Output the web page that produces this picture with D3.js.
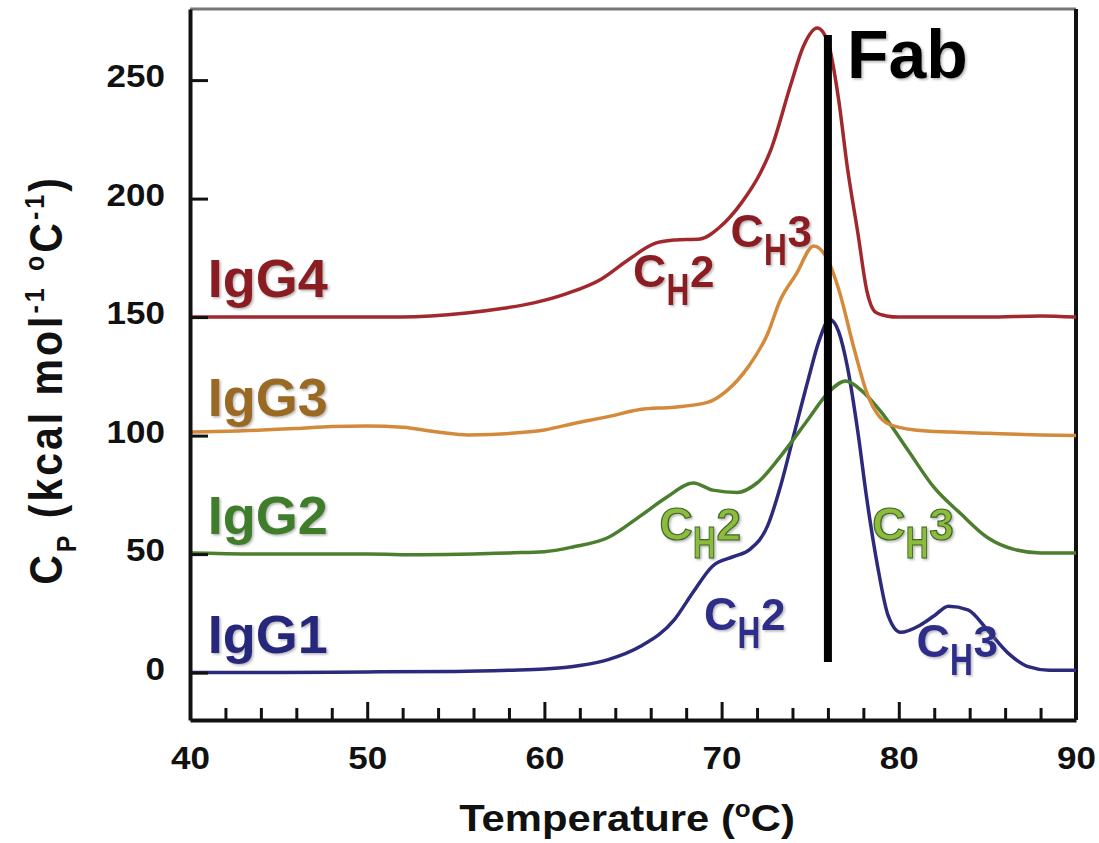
<!DOCTYPE html>
<html>
<head>
<meta charset="utf-8">
<script src="https://cdn.jsdelivr.net/npm/d3@7"></script>
<style>
body { margin: 0; background: #fff; }
text { font-family: "Liberation Sans", Arial, Helvetica, sans-serif; font-weight: bold; }
</style>
</head>
<body>
<svg id="chart" width="1099" height="843"></svg>
<script>

// tick values
var tempTicks = [40, 50, 60, 70, 80, 90],
    cpTicks = [0, 50, 100, 150, 200, 250];

// DSC traces (temperature in C, Cp in kcal/mol/C, offset as plotted)
var igg1T  = [40, 45, 50, 55, 58, 60, 62, 63.6, 65.4, 67.3, 68.4, 69.5, 70.7, 71.6, 72.6, 73.3, 74.1, 74.9, 75.5, 76.1, 76.6, 77.1, 77.7, 78.2, 78.8, 79.4, 80.1, 81.2, 82.0, 82.8, 83.9, 85.0, 86.2, 87.3, 88.5, 90],
    igg1Cp = [0, 0, 0.3, 0.5, 1, 1.5, 3, 5.5, 11, 22, 34, 45, 49, 52, 62, 78, 101, 124, 140, 149, 144, 129, 101, 73, 45, 24, 17, 20, 24, 28, 26.5, 18, 8, 2.5, 1, 1];

var igg2T  = [40, 45, 50, 53, 56, 58, 60, 61.6, 63.6, 65.4, 66.9, 68.4, 69.5, 70.9, 72.0, 73.3, 74.9, 76.0, 77.0, 77.9, 79.0, 80.5, 82.0, 83.5, 85.0, 86.5, 88, 90],
    igg2Cp = [50.5, 50, 50, 49.7, 50, 50.5, 51, 53, 57, 66, 74, 80, 77, 76, 80, 91, 107, 118, 123, 119, 110, 94, 78, 67, 57, 52, 50.5, 50.5];

var igg3T  = [40, 43, 46, 48, 50, 52, 54, 55.7, 57, 59, 60, 61.6, 63.6, 65.4, 67.3, 69.2, 70.3, 71.5, 72.6, 73.3, 74.2, 75.2, 76.0, 76.6, 77.5, 78.2, 79.4, 80.9, 83, 85, 88, 90],
    igg3Cp = [101.5, 102, 103, 103.8, 104, 103.5, 101.5, 100.3, 100.5, 101.5, 102.4, 105, 108, 111, 112, 114, 119, 129, 143, 157, 168, 180, 174, 162, 136, 118, 105, 102.4, 101.5, 101, 100.3, 100];

var igg4T  = [40, 45, 50, 51.9, 55.6, 57.5, 59.4, 61.3, 63.2, 64.7, 66.2, 67.3, 68.8, 69.9, 71.1, 72.2, 72.8, 73.9, 74.6, 75.4, 76.0, 76.6, 77.1, 77.7, 78.2, 78.7, 79.3, 80, 82, 85, 88, 90],
    igg4Cp = [150, 150, 150, 150, 151.7, 153.5, 156, 160, 166, 174, 181, 182.5, 183, 188, 198, 211, 221, 248, 264, 272, 266, 242, 213, 185, 161, 152, 150.5, 150, 150, 150, 150.5, 150];

var seriesNames = ["IgG1", "IgG2", "IgG3", "IgG4"],
    seriesBase = [0, 50, 100, 150];

// Fab transition marker
var fabT = 76, fabCp = [4.5, 269];

var lineColours = ["#2b2a7c", "#4b7e2e", "#d48a3b", "#a1292d"],
    textColours = ["#27277c", "#3f7d2a", "#9b6a24", "#8b1c22"],
    chColours   = ["#2e2e8a", "#8dbb3c", "#9b6a24", "#8b1c22"],
    chStrokes   = ["none", "#3f6a22", "none", "none"];

var svg = d3.select("#chart");

var x = d3.scaleLinear().domain([40, 90]).range([190, 1076]),
    y = d3.scaleLinear().domain([-20, 280]).range([720, 9]);

var defs = svg.append("defs");
defs.append("filter").attr("id", "shadow")
    .attr("x", "-10%").attr("y", "-10%").attr("width", "130%").attr("height", "130%")
  .append("feDropShadow")
    .attr("dx", 1.5).attr("dy", 1.5).attr("stdDeviation", 1)
    .attr("flood-color", "#777").attr("flood-opacity", 0.55);

var series = [
  {name: seriesNames[0], t: igg1T, cp: igg1Cp},
  {name: seriesNames[1], t: igg2T, cp: igg2Cp},
  {name: seriesNames[2], t: igg3T, cp: igg3Cp},
  {name: seriesNames[3], t: igg4T, cp: igg4Cp}
];

var line = d3.line()
    .x(function(d) { return x(d[0]); })
    .y(function(d) { return y(d[1]); })
    .curve(d3.curveMonotoneX);

// box: top border grey, right border black
svg.append("line")
    .attr("x1", x(40)).attr("x2", x(90)).attr("y1", y(280)).attr("y2", y(280))
    .attr("stroke", "#777").attr("stroke-width", 3);
svg.append("line")
    .attr("x1", x(90)).attr("x2", x(90)).attr("y1", y(280)).attr("y2", y(-20))
    .attr("stroke", "#111").attr("stroke-width", 4);

// traces
svg.append("g").selectAll("path")
    .data(series)
  .enter().append("path")
    .attr("d", function(d) { return line(d.t.map(function(t, i) { return [t, d.cp[i]]; })); })
    .attr("fill", "none")
    .attr("stroke", function(d, i) { return lineColours[i]; })
    .attr("stroke-width", 3.5)
    .attr("stroke-linejoin", "round");

// Fab line
svg.append("line")
    .attr("x1", x(fabT)).attr("x2", x(fabT))
    .attr("y1", y(fabCp[0])).attr("y2", y(fabCp[1]))
    .attr("stroke", "#000").attr("stroke-width", 8);

svg.append("text")
    .attr("x", x(fabT) + 19).attr("y", 78)
    .style("font-size", "68px")
    .attr("fill", "#000")
    .attr("filter", "url(#shadow)")
    .text("Fab");

// axes
var yAxis = d3.axisLeft(y).tickValues(cpTicks).tickSize(-18).tickSizeOuter(0).tickPadding(25);
var xAxis = d3.axisBottom(x).tickValues(tempTicks).tickSize(-18).tickSizeOuter(0).tickPadding(27);
var xMinor = d3.axisBottom(x)
    .tickValues(d3.range(42, 90, 2).filter(function(v) { return v % 10 != 0; }))
    .tickSize(-12).tickSizeOuter(0).tickFormat("");

svg.append("g").attr("transform", "translate(0," + y(-20) + ")").call(xMinor)
    .call(function(g) { g.select(".domain").remove(); })
    .selectAll("line").attr("stroke", "#111").attr("stroke-width", 3);

var gx = svg.append("g").attr("transform", "translate(0," + y(-20) + ")").call(xAxis);
var gy = svg.append("g").attr("transform", "translate(" + x(40) + ",0)").call(yAxis);

[gx, gy].forEach(function(g) {
  g.attr("font-family", null).attr("font-size", null);
  g.select(".domain").attr("stroke", "#111").attr("stroke-width", 4);
  g.selectAll(".tick line").attr("stroke", "#111").attr("stroke-width", 3);
  g.selectAll(".tick text")
      .attr("fill", "#111")
      .style("font-size", "31px");
});

// widen axis numbers like the original
gx.selectAll(".tick text").each(function() {
  var t = d3.select(this), ty = +t.attr("y");
  t.attr("y", 0).attr("transform", "translate(0," + ty + ") scale(1.13,1)");
});
gy.selectAll(".tick text").each(function() {
  var t = d3.select(this), tx = +t.attr("x");
  t.attr("x", 0).attr("dy", "0.22em").attr("transform", "translate(" + tx + ",0) scale(1.13,1)");
});

// axis titles
var xt = svg.append("text")
    .attr("text-anchor", "middle")
    .attr("transform", "translate(627,831) scale(1.13,1)")
    .style("font-size", "37px")
    .attr("fill", "#111");
xt.append("tspan").text("Temperature (");
xt.append("tspan").attr("dy", -14).style("font-size", "23px").text("o");
xt.append("tspan").attr("dy", 14).text("C)");

var yt = svg.append("text")
    .attr("text-anchor", "middle")
    .attr("transform", "translate(62,380) scale(1.13,1) rotate(-90)")
    .style("font-size", "41px")
    .style("letter-spacing", "3px")
    .attr("fill", "#111");
yt.append("tspan").text("C");
yt.append("tspan").attr("dy", 12).style("font-size", "25px").text("P");
yt.append("tspan").attr("dy", -12).text(" (kcal mol");
yt.append("tspan").attr("dy", -16).style("font-size", "25px").text("-1");
yt.append("tspan").attr("dy", 16).text(" ");
yt.append("tspan").attr("dy", -16).style("font-size", "25px").text("o");
yt.append("tspan").attr("dy", 16).text("C");
yt.append("tspan").attr("dy", -16).style("font-size", "25px").text("-1");
yt.append("tspan").attr("dy", 16).text(")");

// series name labels sitting just above each baseline
svg.append("g").selectAll("text")
    .data(series)
  .enter().append("text")
    .attr("x", x(41))
    .attr("y", function(d, i) { return y(seriesBase[i]) - 20; })
    .style("font-size", "54px")
    .attr("fill", function(d, i) { return textColours[i]; })
    .attr("filter", "url(#shadow)")
    .text(function(d) { return d.name; });

// domain annotations C_H2 / C_H3: [series index, temperature, Cp, domain number]
var chNotes = [
  [3, 65.0, 162.7, "2"], [3, 70.5, 179.6, "3"],
  [1, 66.5, 56, "2"],   [1, 78.5, 56, "3"],
  [0, 69.0, 18, "2"],   [0, 81.0, 6.6, "3"]
];

var ch = svg.append("g").selectAll("g")
    .data(chNotes)
  .enter().append("g")
    .attr("transform", function(d) { return "translate(" + x(d[1]) + "," + y(d[2]) + ")"; })
    .attr("fill", function(d) { return chColours[d[0]]; })
    .attr("stroke", function(d) { return chStrokes[d[0]]; })
    .attr("stroke-width", 1.2)
    .attr("filter", "url(#shadow)");
ch.append("text").style("font-size", "46px").text("C");
ch.append("text")
    .attr("transform", "translate(33.5,18) scale(0.72,1)")
    .style("font-size", "44px").text("H");
ch.append("text")
    .attr("x", 57)
    .style("font-size", "44px")
    .text(function(d) { return d[3]; });

</script>
</body>
</html>
